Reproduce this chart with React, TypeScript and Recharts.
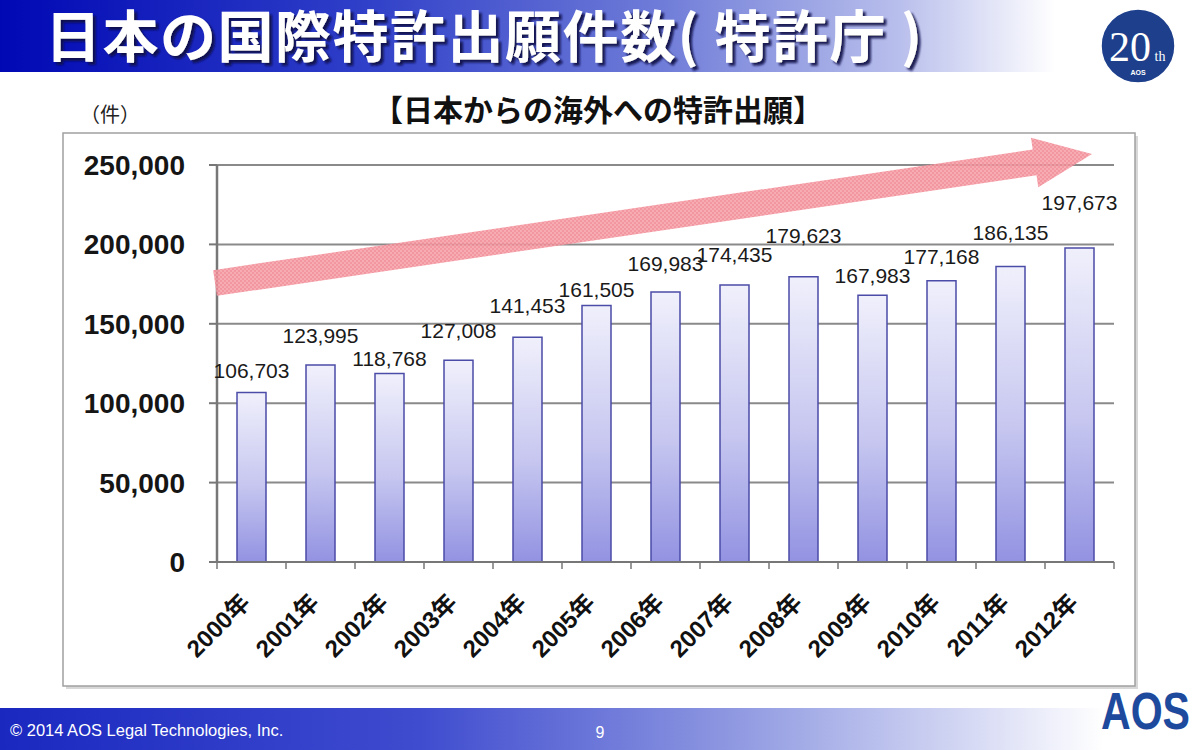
import React from "react";
import { BarChart, Bar, XAxis, YAxis, CartesianGrid } from "recharts";

// 日本からの海外への特許出願（特許庁）
const years = [
  "2000年", "2001年", "2002年", "2003年", "2004年", "2005年", "2006年",
  "2007年", "2008年", "2009年", "2010年", "2011年", "2012年"
];
const filings = [
  106703, 123995, 118768, 127008, 141453, 161505, 169983,
  174435, 179623, 167983, 177168, 186135, 197673
];
const yTicks = [0, 50000, 100000, 150000, 200000, 250000];

// how far each value label sits above its bar in the slide (hand placed there)
const labelGap = [15, 22, 7, 22, 24, 9, 21, 23, 34, 12, 17, 26, 38];

const chartData = years.map((year, i) => ({ year, filings: filings[i] }));

const CHART_W = 1073;
const CHART_H = 552;
const BAND = 69;

const latin = "'Liberation Sans', Arial, 'Noto Sans CJK JP', sans-serif";
const cjk = "'Noto Sans CJK JP', 'Liberation Sans', sans-serif";

const YearTick = (props: any) => {
  const { x, y, payload, index } = props;
  const half = BAND / 2;
  const axisY = y - 7;
  const ax = x;
  const ay = axisY + 42;
  return (
    <g>
      <line x1={x - half} x2={x - half} y1={axisY} y2={axisY + 7} stroke="#777" strokeWidth={1.5} />
      {index === years.length - 1 && (
        <line x1={x + half} x2={x + half} y1={axisY} y2={axisY + 7} stroke="#777" strokeWidth={1.5} />
      )}
      <text
        x={ax}
        y={ay}
        textAnchor="end"
        transform={`rotate(-45, ${ax}, ${ay})`}
        fontSize={24}
        fontWeight={700}
        fill="#111"
        fontFamily={latin}
      >
        {payload.value}
      </text>
    </g>
  );
};

const ValueLabel = (props: any) => {
  const { x, y, width, value, index } = props;
  return (
    <text
      x={x + width / 2}
      y={y - labelGap[index]}
      textAnchor="middle"
      fontSize={21}
      fill="#1a1a1a"
      fontFamily={latin}
    >
      {Number(value).toLocaleString("en-US")}
    </text>
  );
};

// trend arrow drawn over the plot
const arrowStart = { x: 215, y: 283 };
const arrowTip = { x: 1092, y: 154 };
const bandHalf = 13;
const headLen = 58;
const headHalf = 25;

const arrowPoints = () => {
  const dx = arrowTip.x - arrowStart.x;
  const dy = arrowTip.y - arrowStart.y;
  const len = Math.sqrt(dx * dx + dy * dy);
  const ux = dx / len;
  const uy = dy / len;
  const px = -uy;
  const py = ux;
  const bx = arrowTip.x - ux * headLen;
  const by = arrowTip.y - uy * headLen;
  const pts = [
    [arrowStart.x + px * bandHalf, arrowStart.y + py * bandHalf],
    [bx + px * bandHalf, by + py * bandHalf],
    [bx + px * headHalf, by + py * headHalf],
    [arrowTip.x, arrowTip.y],
    [bx - px * headHalf, by - py * headHalf],
    [bx - px * bandHalf, by - py * bandHalf],
    [arrowStart.x - px * bandHalf, arrowStart.y - py * bandHalf]
  ];
  return pts.map((p) => p.join(",")).join(" ");
};

export default function App() {
  return (
    <div
      style={{
        position: "absolute",
        left: 0,
        top: 0,
        width: 1200,
        height: 750,
        background: "#fff",
        overflow: "hidden",
        fontFamily: latin
      }}
    >
      <svg width={1200} height={750} style={{ position: "absolute", left: 0, top: 0 }}>
        <defs>
          <linearGradient id="titleGrad" x1="0" y1="0" x2="1" y2="0">
            <stop offset="0%" stopColor="#0008b4" />
            <stop offset="30%" stopColor="#2f3fc8" />
            <stop offset="55%" stopColor="#6f7cd8" />
            <stop offset="75%" stopColor="#b9bfec" />
            <stop offset="88%" stopColor="#ffffff" />
          </linearGradient>
          <linearGradient id="footGrad" x1="0" y1="0" x2="1" y2="0">
            <stop offset="0%" stopColor="#1a28c0" />
            <stop offset="35%" stopColor="#3f4ccf" />
            <stop offset="60%" stopColor="#8b95e0" />
            <stop offset="80%" stopColor="#d2d6f3" />
            <stop offset="92%" stopColor="#ffffff" />
          </linearGradient>
          <filter id="titleShadow" x="-5%" y="-20%" width="110%" height="150%">
            <feDropShadow dx={3} dy={3} stdDeviation={1} floodColor="#0d0f45" floodOpacity={0.9} />
          </filter>
        </defs>
        <rect x={0} y={0} width={1200} height={72} fill="url(#titleGrad)" />
        <text
          x={45}
          y={57}
          fontSize={56}
          fontWeight={700}
          letterSpacing={1.5}
          fill="#fff"
          fontFamily={cjk}
          filter="url(#titleShadow)"
        >
          日本の国際特許出願件数( 特許庁 )
        </text>

        <circle cx={1138} cy={46} r={37} fill="#1d3f8c" stroke="#fff" strokeWidth={1.5} />
        <text x={1130} y={61} textAnchor="middle" fontSize={42} fill="#fff" fontFamily="'Liberation Serif', serif">
          20
        </text>
        <text x={1160} y={61} textAnchor="middle" fontSize={14} fill="#fff" fontFamily="'Liberation Serif', serif">
          th
        </text>
        <text x={1138} y={75} textAnchor="middle" fontSize={7} fontWeight={700} fill="#fff" fontFamily={latin}>
          AOS
        </text>

        <text x={598} y={121} textAnchor="middle" fontSize={30} fontWeight={700} fill="#111" fontFamily={cjk}>
          【日本からの海外への特許出願】
        </text>
        <text x={80} y={122} fontSize={20} fill="#222" fontFamily={cjk}>
          （件）
        </text>

        <rect x={66} y={136} width={1072} height={553} fill="#d8d8d8" />
        <rect x={63} y={133} width={1072} height={553} fill="#fff" stroke="#a0a0a0" strokeWidth={1.5} />

        <rect x={0} y={708} width={1200} height={42} fill="url(#footGrad)" />
        <text x={10} y={736} fontSize={16.5} fill="#fff" fontFamily={latin}>
          © 2014 AOS Legal Technologies, Inc.
        </text>
        <text x={600} y={738} textAnchor="middle" fontSize={16} fill="#fff" fontFamily={latin}>
          9
        </text>
        <text
          x={1101}
          y={729}
          fontSize={52}
          fontWeight={700}
          fill="#1e4a9e"
          fontFamily={latin}
          textLength={89}
          lengthAdjust="spacingAndGlyphs"
        >
          AOS
        </text>
      </svg>

      <div style={{ position: "absolute", left: 62, top: 134 }}>
        <BarChart
          width={CHART_W}
          height={CHART_H}
          data={chartData}
          margin={{ top: 31, right: 21, left: 20, bottom: 24 }}
          barSize={29}
        >
          <defs>
            <linearGradient id="barGrad" x1="0" y1="0" x2="0" y2="1">
              <stop offset="0%" stopColor="#f0f0fc" />
              <stop offset="55%" stopColor="#c6c6f0" />
              <stop offset="100%" stopColor="#9292e2" />
            </linearGradient>
          </defs>
          <CartesianGrid horizontal vertical={false} stroke="#8a8a8a" strokeWidth={2} />
          <XAxis
            dataKey="year"
            height={100}
            interval={0}
            tickLine={false}
            tickSize={7}
            tickMargin={0}
            axisLine={{ stroke: "#777", strokeWidth: 2 }}
            tick={<YearTick />}
          />
          <YAxis
            width={135}
            domain={[0, 250000]}
            ticks={yTicks}
            interval={0}
            tickFormatter={(v: number) => v.toLocaleString("en-US")}
            axisLine={{ stroke: "#777", strokeWidth: 2.5 }}
            tickLine={{ stroke: "#777", strokeWidth: 2 }}
            tickSize={8}
            tickMargin={24}
            tick={{ fontSize: 28, fontWeight: 700, fill: "#151515", fontFamily: latin }}
          />
          <Bar
            dataKey="filings"
            fill="url(#barGrad)"
            stroke="#4b4ba8"
            strokeWidth={1.5}
            isAnimationActive={false}
            label={<ValueLabel />}
          />
        </BarChart>
      </div>

      <svg
        width={1200}
        height={750}
        style={{ position: "absolute", left: 0, top: 0, pointerEvents: "none" }}
      >
        <defs>
          <pattern id="check" width={4} height={4} patternUnits="userSpaceOnUse">
            <rect width={4} height={4} fill="#f6a0a8" />
            <rect width={2} height={2} fill="#f08893" />
            <rect x={2} y={2} width={2} height={2} fill="#f08893" />
          </pattern>
        </defs>
        <polygon points={arrowPoints()} fill="url(#check)" opacity={0.88} />
      </svg>
    </div>
  );
}
